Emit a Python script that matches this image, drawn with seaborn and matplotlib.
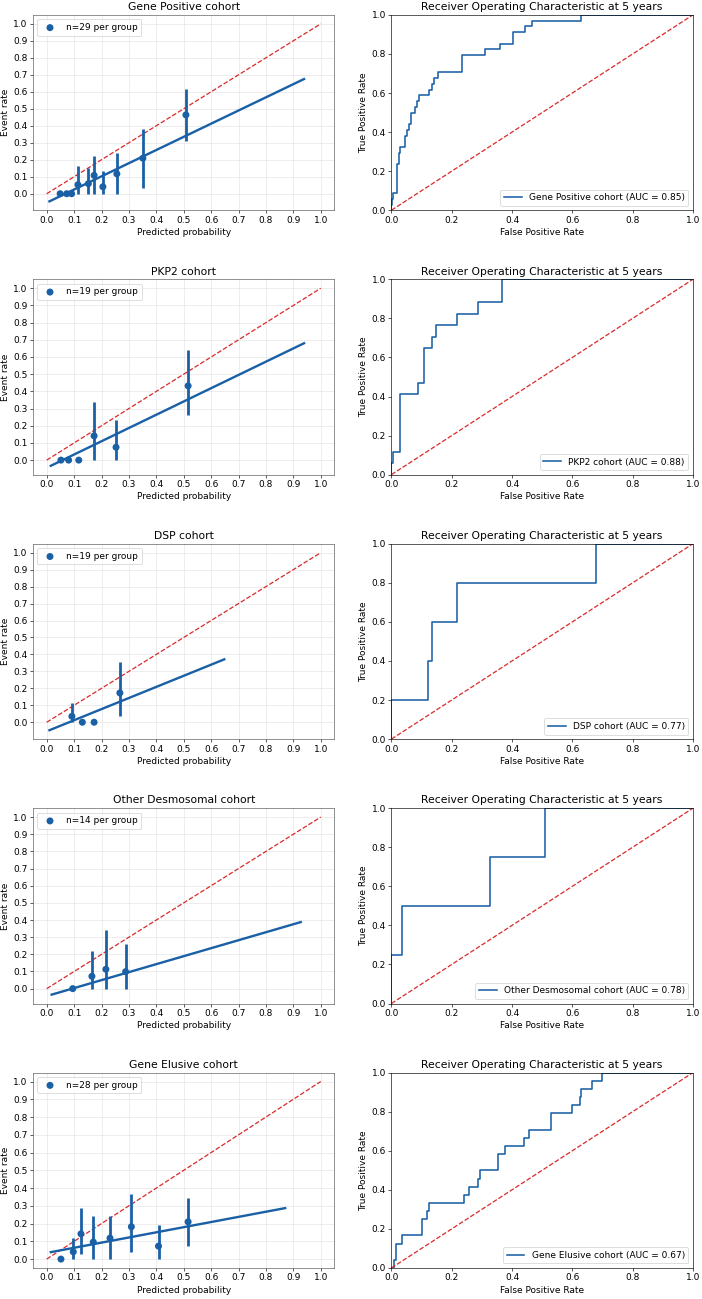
import matplotlib
matplotlib.use('Agg')
import matplotlib.pyplot as plt
import numpy as np
import seaborn as sns

cohorts = ['Gene Positive', 'PKP2', 'DSP', 'Other Desmosomal', 'Gene Elusive']
group_sizes = [29, 19, 19, 14, 28]
aucs = [0.85, 0.88, 0.77, 0.78, 0.67]

# calibration groups: mean predicted prob, observed event rate, CI low/high
gp_pred = [0.049, 0.073, 0.091, 0.114, 0.152, 0.173, 0.205, 0.256, 0.351, 0.508]
gp_rate = [0.0, 0.0, 0.0, 0.053, 0.059, 0.108, 0.041, 0.117, 0.209, 0.464]
gp_lo = [0.0, 0.0, 0.0, 0.0, 0.0, 0.0, 0.0, 0.0, 0.035, 0.309]
gp_hi = [0.0, 0.0, 0.0, 0.162, 0.153, 0.221, 0.131, 0.237, 0.382, 0.616]

pkp2_pred = [0.052, 0.080, 0.117, 0.173, 0.253, 0.516]
pkp2_rate = [0.0, 0.0, 0.0, 0.141, 0.075, 0.432]
pkp2_lo = [0.0, 0.0, 0.0, 0.0, 0.0, 0.261]
pkp2_hi = [0.0, 0.0, 0.0, 0.338, 0.236, 0.639]

dsp_pred = [0.092, 0.130, 0.173, 0.267]
dsp_rate = [0.035, 0.0, 0.0, 0.173]
dsp_lo = [0.0, 0.0, 0.0, 0.035]
dsp_hi = [0.114, 0.0, 0.0, 0.353]

od_pred = [0.095, 0.165, 0.216, 0.288]
od_rate = [0.0, 0.072, 0.113, 0.099]
od_lo = [0.0, 0.0, 0.0, 0.0]
od_hi = [0.0, 0.219, 0.340, 0.258]

ge_pred = [0.052, 0.097, 0.125, 0.170, 0.231, 0.309, 0.408, 0.516]
ge_rate = [0.0, 0.041, 0.142, 0.096, 0.118, 0.182, 0.073, 0.210]
ge_lo = [0.0, 0.0, 0.030, 0.0, 0.0, 0.039, 0.0, 0.073]
ge_hi = [0.0, 0.120, 0.290, 0.245, 0.245, 0.369, 0.191, 0.346]

# fitted calibration lines (end points)
gp_fit_x, gp_fit_y = [0.010, 0.939], [-0.045, 0.675]
pkp2_fit_x, pkp2_fit_y = [0.015, 0.939], [-0.033, 0.680]
dsp_fit_x, dsp_fit_y = [0.010, 0.648], [-0.047, 0.371]
od_fit_x, od_fit_y = [0.018, 0.927], [-0.035, 0.388]
ge_fit_x, ge_fit_y = [0.015, 0.870], [0.039, 0.287]

# ROC curves at 5 years
gp_fpr = [0, 0, 0.002, 0.005, 0.020, 0.025, 0.030, 0.044, 0.052, 0.058, 0.064, 0.079, 0.086,
          0.092, 0.126, 0.133, 0.141, 0.156, 0.234, 0.310, 0.359, 0.402, 0.442, 0.465, 0.628, 1.0]
gp_tpr = [0, 0.029, 0.059, 0.088, 0.235, 0.294, 0.324, 0.382, 0.412, 0.441, 0.500, 0.529, 0.559,
          0.588, 0.618, 0.647, 0.676, 0.706, 0.794, 0.824, 0.853, 0.912, 0.941, 0.971, 1.0, 1.0]
pkp2_fpr = [0, 0, 0.006, 0.030, 0.088, 0.107, 0.136, 0.147, 0.218, 0.288, 0.367, 1.0]
pkp2_tpr = [0, 0.059, 0.118, 0.412, 0.471, 0.647, 0.706, 0.765, 0.824, 0.882, 1.0, 1.0]
dsp_fpr = [0, 0, 0.122, 0.136, 0.216, 0.677, 1.0]
dsp_tpr = [0, 0.2, 0.4, 0.6, 0.8, 1.0, 1.0]
od_fpr = [0, 0, 0.035, 0.327, 0.508, 1.0]
od_tpr = [0, 0.25, 0.5, 0.75, 1.0, 1.0]
ge_fpr = [0, 0.009, 0.015, 0.036, 0.102, 0.118, 0.126, 0.242, 0.256, 0.286, 0.295, 0.355,
          0.376, 0.440, 0.456, 0.530, 0.599, 0.624, 0.629, 0.664, 0.698, 1.0]
ge_tpr = [0, 0.042, 0.125, 0.167, 0.250, 0.292, 0.333, 0.375, 0.417, 0.458, 0.500, 0.583,
          0.625, 0.667, 0.708, 0.792, 0.833, 0.875, 0.917, 0.958, 1.0, 1.0]

calib = [
    (gp_pred, gp_rate, gp_lo, gp_hi, gp_fit_x, gp_fit_y),
    (pkp2_pred, pkp2_rate, pkp2_lo, pkp2_hi, pkp2_fit_x, pkp2_fit_y),
    (dsp_pred, dsp_rate, dsp_lo, dsp_hi, dsp_fit_x, dsp_fit_y),
    (od_pred, od_rate, od_lo, od_hi, od_fit_x, od_fit_y),
    (ge_pred, ge_rate, ge_lo, ge_hi, ge_fit_x, ge_fit_y),
]
rocs = [(gp_fpr, gp_tpr), (pkp2_fpr, pkp2_tpr), (dsp_fpr, dsp_tpr), (od_fpr, od_tpr), (ge_fpr, ge_tpr)]

BLUE = '#1a60a6'
RED = '#d92b2b'

plt.rcParams['font.size'] = 11.3
plt.rcParams['axes.titlesize'] = 13.6

DPI = 57
fig, axes = plt.subplots(5, 2, figsize=(702 / DPI, 1299 / DPI), dpi=DPI)
fig.subplots_adjust(left=0.047, right=0.987, top=0.9885, bottom=0.0239, wspace=0.189, hspace=0.354)

for i, cohort in enumerate(cohorts):
    ax = axes[i, 0]
    pred, rate, lo, hi, fx, fy = calib[i]
    ax.plot([0, 1], [0, 1], '--', color=RED, lw=1.6, zorder=2)
    ax.vlines(pred, lo, hi, color=BLUE, lw=3.5, zorder=3)
    sns.scatterplot(x=pred, y=rate, ax=ax, color=BLUE, s=78, edgecolor='none', zorder=4,
                    label='n=%d per group' % group_sizes[i])
    sns.lineplot(x=fx, y=fy, ax=ax, color=BLUE, lw=3, zorder=3)
    ax.set_xticks(np.arange(0, 1.01, 0.1))
    ax.set_yticks(np.arange(0, 1.01, 0.1))
    ax.grid(True, color='#e3e3e3', lw=0.8)
    ax.set_axisbelow(True)
    for sp in ax.spines.values():
        sp.set_color('#555555')
    ax.set_title(cohort + ' cohort')
    ax.set_xlabel('Predicted probability')
    ax.set_ylabel('Event rate')
    ax.legend(loc='upper left')

    ax = axes[i, 1]
    fpr, tpr = rocs[i]
    sns.lineplot(x=fpr, y=tpr, ax=ax, color=BLUE, lw=2, drawstyle='steps-post', sort=False,
                 estimator=None, label='%s cohort (AUC = %.2f)' % (cohort, aucs[i]))
    ax.plot([0, 1], [0, 1], '--', color=RED, lw=1.6)
    ax.set_xlim(0, 1)
    ax.set_ylim(0, 1)
    ax.set_title('Receiver Operating Characteristic at 5 years')
    ax.set_xlabel('False Positive Rate')
    ax.set_ylabel('True Positive Rate')
    ax.legend(loc='lower right')

fig.savefig('out.png', dpi=DPI)
